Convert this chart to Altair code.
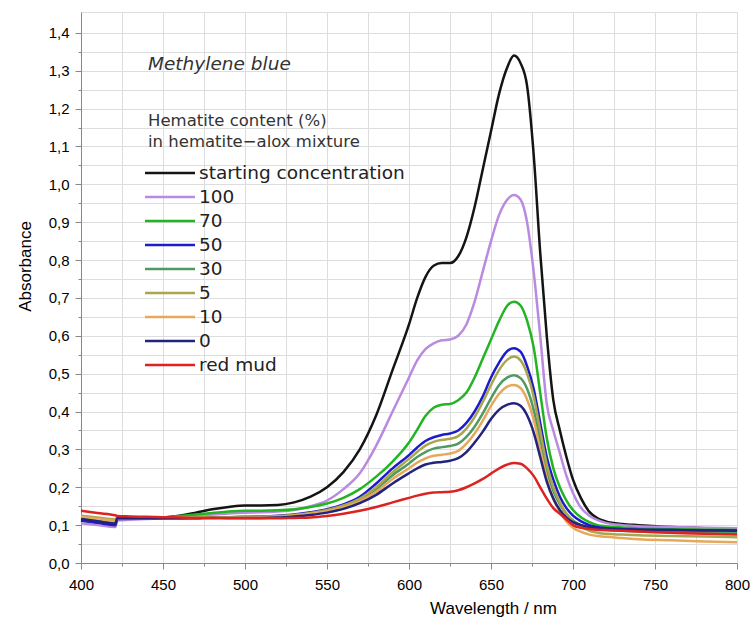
import altair as alt
import pandas as pd

# Wavelength grid (nm) shared by all spectra
wavelength = [400, 410, 421, 422, 430, 440, 450, 460, 470, 480, 490, 500, 510, 520, 530, 540,
              550, 560, 570, 580, 590, 600,
              605, 610, 615, 620, 625, 630, 635, 640, 645, 650, 655, 660,
              664, 668, 672, 676, 680, 684, 688, 692, 696, 700,
              705, 710, 715, 720,
              730, 740, 760, 780, 800]

series_names = ["starting concentration", "100", "70", "50", "30", "5", "10", "0", "red mud"]
series_colors = ["#141414", "#b98ae0", "#22b422", "#1c1ccc", "#4f9a62",
                 "#a9a64e", "#e6a85c", "#23237c", "#dd2222"]

abs_start = [0.112, 0.108, 0.104, 0.118, 0.118, 0.118, 0.120, 0.125, 0.133, 0.142, 0.148, 0.152, 0.152, 0.153, 0.160, 0.175,
             0.20, 0.24, 0.30, 0.39, 0.51, 0.63,
             0.70, 0.755, 0.785, 0.792, 0.792, 0.81, 0.86, 0.94, 1.04, 1.14, 1.24, 1.31,
             1.34, 1.32, 1.26, 1.08, 0.82, 0.60, 0.43, 0.35, 0.28, 0.22,
             0.17, 0.135, 0.118, 0.11,
             0.103, 0.10, 0.095, 0.092, 0.09]
abs_100 = [0.105, 0.100, 0.095, 0.112, 0.114, 0.116, 0.118, 0.121, 0.125, 0.128, 0.131, 0.133, 0.134, 0.136, 0.140, 0.150,
           0.165, 0.195, 0.237, 0.31, 0.40, 0.49,
           0.535, 0.565, 0.58, 0.588, 0.59, 0.60, 0.63, 0.69, 0.77, 0.85, 0.92, 0.96,
           0.972, 0.96, 0.90, 0.77, 0.60, 0.42, 0.35, 0.29, 0.23, 0.185,
           0.145, 0.125, 0.113, 0.106,
           0.10, 0.097, 0.095, 0.093, 0.092]
abs_70 = [0.113, 0.107, 0.102, 0.117, 0.118, 0.119, 0.120, 0.124, 0.128, 0.132, 0.136, 0.138, 0.138, 0.139, 0.142, 0.148,
          0.157, 0.172, 0.195, 0.228, 0.268, 0.318,
          0.352, 0.388, 0.41, 0.418, 0.42, 0.43, 0.45, 0.49, 0.54, 0.59, 0.64, 0.68,
          0.69, 0.68, 0.64, 0.57, 0.45, 0.33, 0.25, 0.20, 0.165, 0.14,
          0.12, 0.108, 0.10, 0.097,
          0.094, 0.091, 0.089, 0.088, 0.087]
abs_50 = [0.112, 0.106, 0.100, 0.116, 0.117, 0.117, 0.118, 0.118, 0.119, 0.120, 0.121, 0.122, 0.123, 0.125, 0.128, 0.134,
          0.142, 0.155, 0.175, 0.21, 0.25, 0.285,
          0.305, 0.322, 0.332, 0.338, 0.342, 0.35, 0.37, 0.40, 0.44, 0.49, 0.53, 0.56,
          0.567, 0.558, 0.52, 0.46, 0.37, 0.28, 0.22, 0.175, 0.145, 0.125,
          0.11, 0.10, 0.095, 0.092,
          0.09, 0.088, 0.087, 0.086, 0.086]
abs_30 = [0.118, 0.112, 0.106, 0.117, 0.118, 0.118, 0.119, 0.119, 0.120, 0.120, 0.121, 0.121, 0.122, 0.123, 0.126, 0.131,
          0.138, 0.150, 0.167, 0.195, 0.232, 0.263,
          0.28, 0.293, 0.302, 0.306, 0.309, 0.315, 0.333, 0.36, 0.395, 0.435, 0.47, 0.49,
          0.496, 0.488, 0.46, 0.405, 0.325, 0.245, 0.19, 0.155, 0.13, 0.112,
          0.10, 0.093, 0.089, 0.087,
          0.085, 0.083, 0.081, 0.080, 0.079]
abs_5 = [0.125, 0.120, 0.115, 0.120, 0.120, 0.120, 0.120, 0.120, 0.120, 0.121, 0.121, 0.122, 0.122, 0.124, 0.127, 0.132,
         0.140, 0.152, 0.170, 0.20, 0.24, 0.275,
         0.293, 0.31, 0.32, 0.325, 0.328, 0.335, 0.355, 0.385, 0.425, 0.47, 0.51, 0.537,
         0.545, 0.535, 0.50, 0.44, 0.35, 0.26, 0.20, 0.16, 0.13, 0.11,
         0.095, 0.085, 0.08, 0.077,
         0.075, 0.073, 0.071, 0.070, 0.068]
abs_10 = [0.122, 0.117, 0.112, 0.118, 0.118, 0.118, 0.119, 0.119, 0.119, 0.119, 0.120, 0.120, 0.121, 0.122, 0.125, 0.130,
          0.136, 0.147, 0.163, 0.188, 0.222, 0.25,
          0.265, 0.276, 0.283, 0.286, 0.289, 0.296, 0.315, 0.342, 0.376, 0.415, 0.447, 0.466,
          0.47, 0.462, 0.432, 0.38, 0.30, 0.225, 0.17, 0.135, 0.11, 0.093,
          0.082, 0.075, 0.071, 0.069,
          0.066, 0.063, 0.060, 0.057, 0.055]
abs_0 = [0.116, 0.110, 0.104, 0.118, 0.118, 0.118, 0.118, 0.118, 0.118, 0.119, 0.119, 0.119, 0.119, 0.120, 0.123, 0.127,
         0.133, 0.143, 0.158, 0.18, 0.21, 0.237,
         0.25, 0.26, 0.265, 0.267, 0.27, 0.277, 0.293, 0.318, 0.347, 0.38, 0.405, 0.418,
         0.422, 0.415, 0.39, 0.345, 0.28, 0.215, 0.17, 0.14, 0.12, 0.108,
         0.10, 0.095, 0.092, 0.09,
         0.089, 0.088, 0.087, 0.086, 0.085]
abs_redmud = [0.138, 0.132, 0.126, 0.124, 0.123, 0.122, 0.121, 0.120, 0.119, 0.119, 0.118, 0.118, 0.118, 0.118, 0.119, 0.120,
              0.124, 0.130, 0.138, 0.148, 0.16, 0.172,
              0.178, 0.183, 0.186, 0.187, 0.188, 0.192, 0.20, 0.21, 0.222, 0.236, 0.25, 0.26,
              0.264, 0.262, 0.25, 0.23, 0.20, 0.17, 0.145, 0.13, 0.115, 0.10,
              0.093, 0.09, 0.088, 0.087,
              0.085, 0.083, 0.08, 0.077, 0.075]

spectra = [abs_start, abs_100, abs_70, abs_50, abs_30, abs_5, abs_10, abs_0, abs_redmud]

legend_title = ["Hematite content (%)", "in hematite\u2212alox mixture"]
dye_name = "Methylene blue"

y_tick_values = [round(i * 0.05, 2) for i in range(29)]
x_tick_values = list(range(400, 801, 25))

FONT = "DejaVu Sans"
AXIS_GREY = "#505050"
TEXT = "#333333"

rows = []
for order, (name, values) in enumerate(zip(series_names, spectra)):
    for w, a in zip(wavelength, values):
        rows.append({"wavelength": w, "absorbance": a, "sample": name, "order": order})
df = pd.DataFrame(rows)

legend_df = pd.DataFrame({"sample": series_names, "row": list(range(len(series_names)))})

color_scale = alt.Scale(domain=series_names, range=series_colors)

y_major = "round(datum.value * 20) % 2 == 0"
x_major = "datum.value % 50 == 0"

lines = alt.Chart(df).mark_line(strokeWidth=2.5, interpolate="monotone").encode(
    x=alt.X(
        "wavelength:Q",
        scale=alt.Scale(domain=[400, 800], nice=False),
        axis=alt.Axis(
            values=x_tick_values,
            labelExpr=f"{x_major} ? format(datum.value, 'd') : ''",
            tickSize={"condition": {"test": x_major, "value": 6}, "value": 3},
            labelPadding=8,
            labelFontSize=15,
            labelFlush=False,
            labelOverlap=False,
            title="Wavelength / nm",
            titleFontSize=17,
            titleFontWeight="normal",
            titleX=412,
            titleY=45,
            titleAlign="center",
            titleBaseline="middle",
        ),
    ),
    y=alt.Y(
        "absorbance:Q",
        scale=alt.Scale(domain=[0, 1.455], nice=False),
        axis=alt.Axis(
            values=y_tick_values,
            labelExpr=f"{y_major} ? replace(format(datum.value, '.1f'), '.', ',') : ''",
            tickSize={"condition": {"test": y_major, "value": 6}, "value": 3},
            labelPadding=6,
            labelFontSize=15,
            labelOverlap=False,
            title="Absorbance",
            titleFontSize=17,
            titleFontWeight="normal",
            titleX=-56,
            titleY=254,
            titleAngle=270,
            titleAlign="center",
            titleBaseline="middle",
        ),
    ),
    color=alt.Color("sample:N", sort=series_names, scale=color_scale, legend=None),
    order=alt.Order("order:Q"),
)

# Legend rows: one short stroke and a label per sample, spaced evenly downwards
row_y = alt.Y("row:Q", scale=alt.Scale(domain=[0, 8], range=[161, 353]), axis=None)

legend_strokes = alt.Chart(legend_df).mark_rule(strokeWidth=2.5).encode(
    x=alt.value(64),
    x2=alt.value(114),
    y=row_y,
    color=alt.Color("sample:N", sort=series_names, scale=color_scale, legend=None),
)

legend_labels = alt.Chart(legend_df).mark_text(
    align="left", baseline="middle", font=FONT, fontSize=18.5, color="#222222",
).encode(
    x=alt.value(118),
    y=row_y,
    text="sample:N",
)


def note(text, x, y, size, style="normal"):
    return alt.Chart(pd.DataFrame({"label": [text]})).mark_text(
        align="left", baseline="alphabetic", font=FONT, fontStyle=style,
        fontSize=size, color=TEXT,
    ).encode(x=alt.value(x), y=alt.value(y), text="label:N")


annotations = [
    note(dye_name, 67, 58, 18.5, "italic"),
    note(legend_title[0], 67, 114, 16.5),
    note(legend_title[1], 67, 135, 16.5),
]

chart = alt.layer(lines, legend_strokes, legend_labels, *annotations).resolve_scale(
    y="independent"
).properties(
    width=656,
    height=551,
    autosize="none",
    padding={"left": 81, "top": 12, "right": 16, "bottom": 60},
).configure_view(
    stroke=AXIS_GREY, strokeWidth=2,
).configure_axis(
    grid=False,
    domainColor=AXIS_GREY,
    domainWidth=2,
    tickColor=AXIS_GREY,
    tickWidth=1.5,
    labelFont=FONT,
    labelColor=TEXT,
    titleFont=FONT,
    titleColor=TEXT,
    titleFontWeight="normal",
).configure(background="white")

chart.save("out.html", embed_options={"renderer": "svg", "actions": False})
